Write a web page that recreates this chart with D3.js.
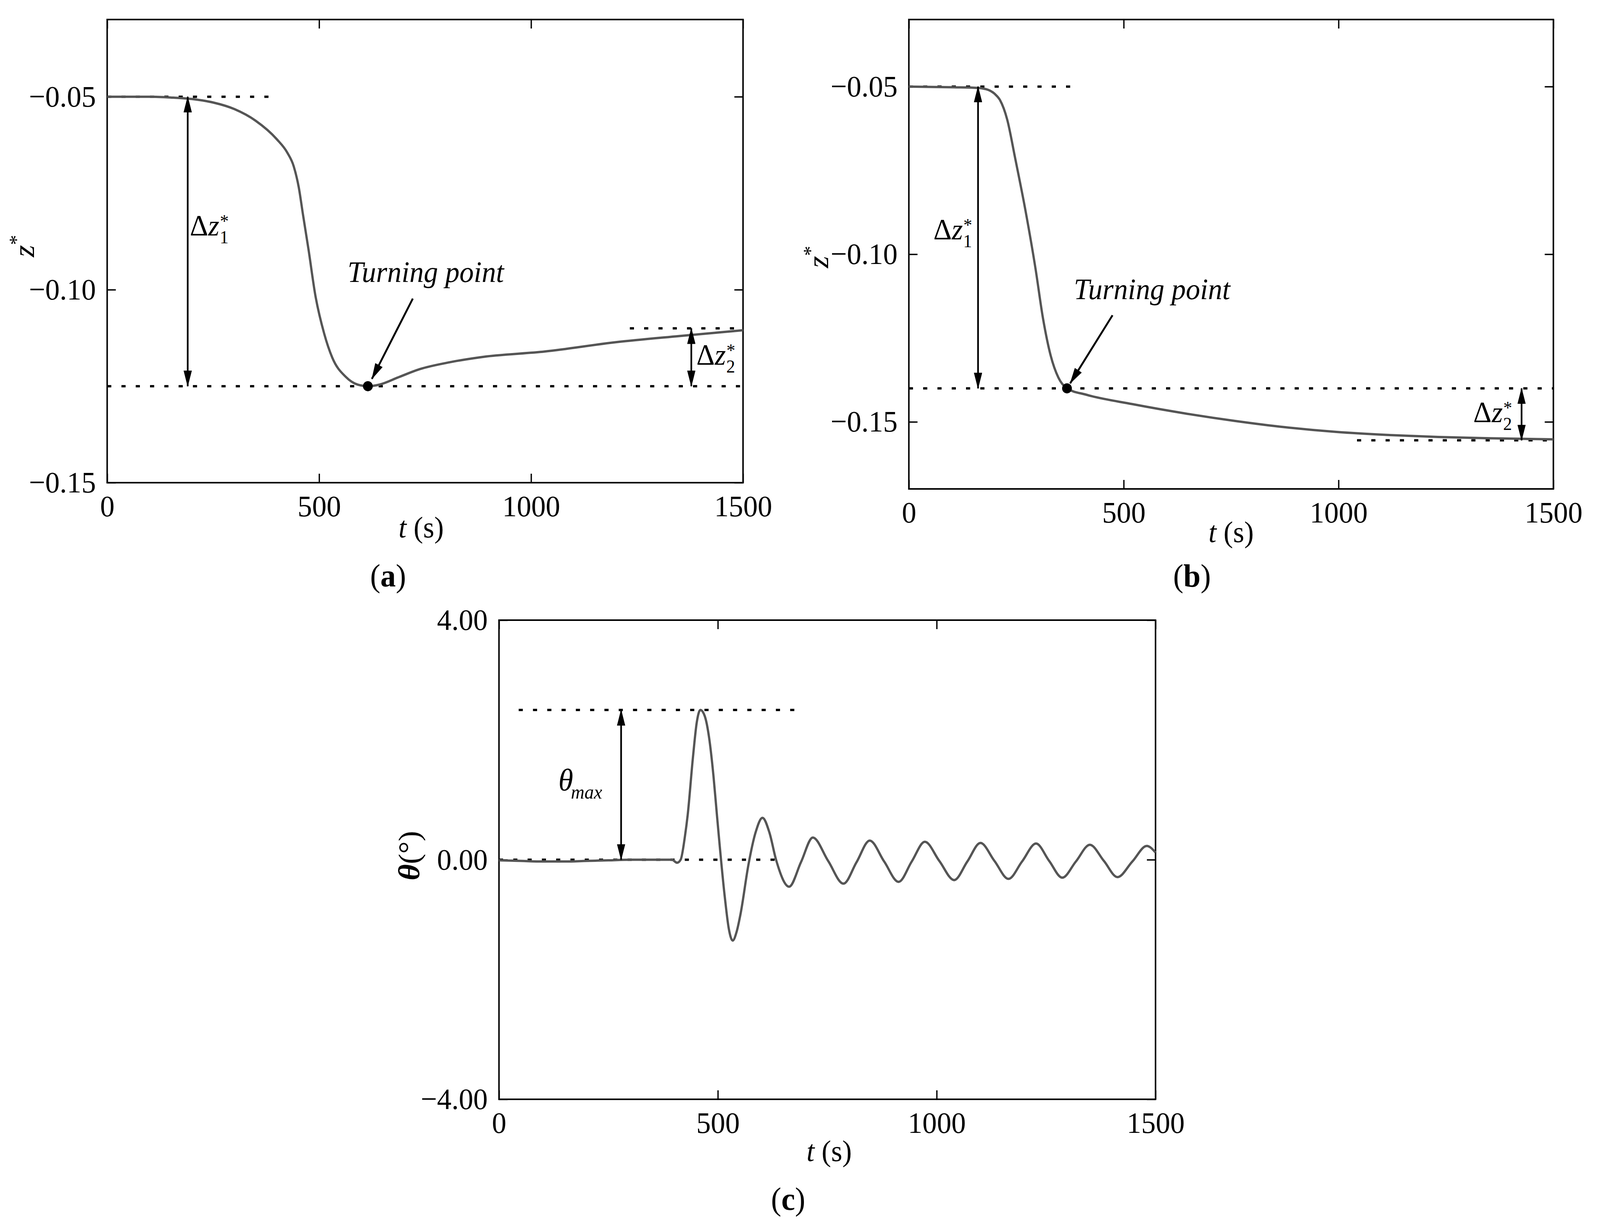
<!DOCTYPE html>
<html>
<head>
<meta charset="utf-8">
<script src="https://cdn.jsdelivr.net/npm/d3@7"></script>
<style>
  html, body { margin: 0; padding: 0; background: #fff; overflow: hidden; }
  svg { display: block; width: 100vw; height: 100vh; }
  text { font-family: "Liberation Serif", "Times New Roman", serif; fill: #000; }
</style>
</head>
<body>
<script>
// ---- data ----
const tTicks = [0, 500, 1000, 1500]
const zTicks = [-0.05, -0.10, -0.15]
const thetaTicks = [-4, 0, 4]

// (a) z* vs t
const tA = [0, 100, 150, 200, 250, 300, 350, 400, 425, 440, 452, 462, 475, 491, 512, 531, 563, 591, 615, 642, 689, 737, 808, 888, 1033, 1200, 1350, 1500]
const zA = [-0.0500, -0.0500, -0.0502, -0.0506, -0.0515, -0.0532, -0.0562, -0.0610, -0.0645, -0.0680, -0.0735, -0.0806, -0.0896, -0.1014, -0.1114, -0.1176, -0.1226, -0.1246, -0.1250, -0.1246, -0.1226, -0.1206, -0.1188, -0.1174, -0.1160, -0.1136, -0.1120, -0.1105]

// (b) z* vs t
const tB = [0, 105, 161, 185, 200, 212, 229, 247, 271, 295, 312, 330, 348, 368, 413, 520, 639, 758, 876, 995, 1114, 1233, 1352, 1500]
const zB = [-0.0500, -0.0502, -0.0504, -0.0510, -0.0522, -0.0540, -0.0599, -0.0711, -0.0867, -0.1045, -0.1190, -0.1302, -0.1368, -0.1400, -0.1419, -0.1447, -0.1474, -0.1497, -0.1516, -0.1530, -0.1539, -0.1545, -0.1549, -0.1552]

// (c) theta vs t
const tC = [0, 50, 100, 150, 200, 250, 300, 350, 395, 407, 415, 425, 431, 443, 452, 460, 470, 480, 490, 498, 516, 525, 534, 543, 552, 570, 586, 602, 618, 633, 663, 690, 717, 752, 787, 817, 847, 880, 913, 943, 973, 1006, 1040, 1070, 1100, 1132, 1164, 1195, 1227, 1257, 1287, 1318, 1350, 1382, 1413, 1447, 1480, 1500]
const thC = [-0.01, -0.02, -0.03, -0.03, -0.02, -0.01, 0.00, 0.00, 0.00, -0.05, 0.00, 0.40, 0.74, 1.70, 2.30, 2.50, 2.40, 2.04, 1.40, 0.74, -0.63, -1.15, -1.35, -1.20, -0.90, -0.08, 0.45, 0.70, 0.45, 0.00, -0.45, -0.04, 0.37, -0.02, -0.40, -0.04, 0.32, -0.03, -0.37, -0.03, 0.30, -0.02, -0.34, -0.03, 0.28, -0.02, -0.32, -0.03, 0.27, -0.02, -0.30, -0.03, 0.25, -0.02, -0.29, -0.03, 0.23, 0.12]

// dotted guide lines: [t start, t end, value]
const guidesA = [[0, 396, -0.05], [0, 1500, -0.125], [1233, 1480, -0.110]]
const guidesB = [[0, 390, -0.05], [0, 1500, -0.14], [1043, 1500, -0.1555]]
const guidesC = [[45, 690, 2.5], [0, 650, 0]]

// double arrows: [t, from, to]
const spansA = [[190, -0.05, -0.125], [1378, -0.110, -0.125]]
const spansB = [[161, -0.05, -0.14], [1426, -0.14, -0.1555]]
const spansC = [[279, 0, 2.5]]

// turning points and their pointer arrows
const turnA = [615, -0.125]
const turnB = [368, -0.14]
const pointerA = [[721, -0.1023], [624.5, -0.1231]]
const pointerB = [[474, -0.1182], [375.4, -0.1385]]

const W = 4255, H = 3142
// drawn in a fixed 4255x3142 frame, scaled to whatever the window really is
const svg = d3.select('body').append('svg')
  .attr('viewBox', `0 0 ${W} ${H}`)
  .attr('preserveAspectRatio', 'none')
svg.append('rect').attr('width', W).attr('height', H).attr('fill', '#fff')

const defs = svg.append('defs')
defs.append('marker')
  .attr('id', 'head')
  .attr('viewBox', '0 0 42 22')
  .attr('refX', 40).attr('refY', 11)
  .attr('markerWidth', 42).attr('markerHeight', 22)
  .attr('markerUnits', 'userSpaceOnUse')
  .attr('orient', 'auto-start-reverse')
  .append('path').attr('d', 'M0,0L42,11L0,22Z').attr('fill', '#000')

const FS = 77

function panel(box, yDomain, yTicks){
  const g = svg.append('g').attr('transform', `translate(${box.left},${box.top})`)
  const x = d3.scaleLinear([0, 1500], [0, box.w])
  const y = d3.scaleLinear(yDomain, [box.h, 0])
  const fmt = d3.format('.2f')

  const styleAxis = a => {
    a.select('.domain').remove()
    a.selectAll('.tick line').attr('stroke', '#000').attr('stroke-width', 3.5)
    a.selectAll('.tick text').attr('font-size', FS)
      .attr('font-family', '"Liberation Serif","Times New Roman",serif')
  }
  g.append('g').attr('transform', `translate(0,${box.h})`)
    .call(d3.axisBottom(x).tickValues(tTicks).tickFormat(d3.format('d')).tickSizeInner(-23).tickSizeOuter(0).tickPadding(31))
    .call(styleAxis)
  g.append('g')
    .call(d3.axisTop(x).tickValues(tTicks).tickFormat('').tickSizeInner(-23).tickSizeOuter(0))
    .call(styleAxis)
  g.append('g')
    .call(d3.axisLeft(y).tickValues(yTicks).tickFormat(fmt).tickSizeInner(-23).tickSizeOuter(0).tickPadding(30))
    .call(styleAxis)
  g.append('g').attr('transform', `translate(${box.w},0)`)
    .call(d3.axisRight(y).tickValues(yTicks).tickFormat('').tickSizeInner(-23).tickSizeOuter(0))
    .call(styleAxis)

  g.append('rect').attr('width', box.w).attr('height', box.h)
    .attr('fill', 'none').attr('stroke', '#000').attr('stroke-width', 4)

  return {g, x, y, box}
}

function curve(p, ts, vs){
  const line = d3.line().x(d => p.x(d[0])).y(d => p.y(d[1])).curve(d3.curveMonotoneX)
  p.g.append('path').attr('d', line(d3.zip(ts, vs)))
    .attr('fill', 'none').attr('stroke', '#555').attr('stroke-width', 6)
    .attr('stroke-linejoin', 'round')
}

function guides(p, list){
  p.g.selectAll(null).data(list).join('line')
    .attr('x1', d => p.x(d[0])).attr('x2', d => p.x(d[1]))
    .attr('y1', d => p.y(d[2])).attr('y2', d => p.y(d[2]))
    .attr('stroke', '#000').attr('stroke-width', 6).attr('stroke-dasharray', '11,27')
}

function spans(p, list){
  p.g.selectAll(null).data(list).join('line')
    .attr('x1', d => p.x(d[0])).attr('x2', d => p.x(d[0]))
    .attr('y1', d => p.y(d[1])).attr('y2', d => p.y(d[2]))
    .attr('stroke', '#000').attr('stroke-width', 4.5)
    .attr('marker-start', 'url(#head)').attr('marker-end', 'url(#head)')
}

function turning(p, pt, ptr){
  p.g.append('line')
    .attr('x1', p.x(ptr[0][0])).attr('y1', p.y(ptr[0][1]))
    .attr('x2', p.x(ptr[1][0])).attr('y2', p.y(ptr[1][1]))
    .attr('stroke', '#000').attr('stroke-width', 5)
    .attr('marker-end', 'url(#head)')
  p.g.append('circle').attr('cx', p.x(pt[0])).attr('cy', p.y(pt[1])).attr('r', 13).attr('fill', '#000')
}

function textAt(p, t, v, str, size, italic){
  return p.g.append('text').attr('x', p.x(t)).attr('y', p.y(v))
    .attr('font-size', size).attr('font-style', italic ? 'italic' : 'normal').text(str)
}

// Δz with stacked sub/superscript, kept in one text element
function deltaLabel(p, t, v, sub){
  const txt = p.g.append('text').attr('x', p.x(t)).attr('y', p.y(v)).attr('font-size', 76)
  txt.append('tspan').text('Δ')
  txt.append('tspan').attr('font-style', 'italic').text('z')
  txt.append('tspan').attr('font-size', 47).attr('dx', 1).attr('dy', 20).text(sub)
  txt.append('tspan').attr('font-size', 47).attr('dx', -23).attr('dy', -41).text('*')
}

function xLabel(cx, y){
  const t = svg.append('text').attr('x', cx).attr('y', y).attr('text-anchor', 'middle').attr('font-size', 76)
  t.append('tspan').attr('font-style', 'italic').text('t')
  t.append('tspan').text(' (s)')
}

function zLabel(x, cy){
  const t = svg.append('text').attr('transform', `translate(${x},${cy}) rotate(-90)`)
    .attr('text-anchor', 'middle').attr('font-size', 80)
  t.append('tspan').attr('font-style', 'italic').text('z')
  t.append('tspan').attr('font-size', 52).attr('dy', -30).text('*')
}

function panelTag(cx, y, letter){
  const t = svg.append('text').attr('x', cx).attr('y', y).attr('text-anchor', 'middle').attr('font-size', 82)
  t.append('tspan').text('(')
  t.append('tspan').attr('font-weight', 'bold').text(letter)
  t.append('tspan').text(')')
}

// ---- panel (a) ----
const pa = panel({left: 285, top: 50, w: 1691, h: 1186}, [-0.15, -0.03], zTicks)
guides(pa, guidesA)
curve(pa, tA, zA)
spans(pa, spansA)
turning(pa, turnA, pointerA)
textAt(pa, 567, -0.098, 'Turning point', 76, true)
deltaLabel(pa, 195, -0.086, '1')
deltaLabel(pa, 1390, -0.1194, '2')
zLabel(90, 630)
xLabel(1120, 1376)
panelTag(1032, 1502, 'a')

// ---- panel (b) ----
const pb = panel({left: 2417, top: 50, w: 1714, h: 1202}, [-0.17, -0.03], zTicks)
guides(pb, guidesB)
curve(pb, tB, zB)
spans(pb, spansB)
turning(pb, turnB, pointerB)
textAt(pb, 384, -0.1134, 'Turning point', 76, true)
deltaLabel(pb, 57, -0.0956, '1')
deltaLabel(pb, 1313.6, -0.1501, '2')
zLabel(2202, 658)
xLabel(3274, 1388)
panelTag(3170, 1502, 'b')

// ---- panel (c) ----
const pc = panel({left: 1327, top: 1588, w: 1746, h: 1227}, [-4, 4], thetaTicks)
guides(pc, guidesC)
curve(pc, tC, thC)
spans(pc, spansC)
const th = pc.g.append('text').attr('x', pc.x(135.7)).attr('y', pc.y(1.16)).attr('font-size', 80)
th.append('tspan').attr('font-style', 'italic').text('θ')
th.append('tspan').attr('font-style', 'italic').attr('font-size', 50).attr('dx', -6).attr('dy', 21).text('max')

const yl = svg.append('text').attr('transform', 'translate(1115,2191) rotate(-90)')
  .attr('text-anchor', 'middle').attr('font-size', 80)
yl.append('tspan').attr('font-style', 'italic').attr('font-weight', 'bold').text('θ')
yl.append('tspan').text('(°)')
xLabel(2205, 2973)
panelTag(2096, 3098, 'c')
</script>
</body>
</html>
